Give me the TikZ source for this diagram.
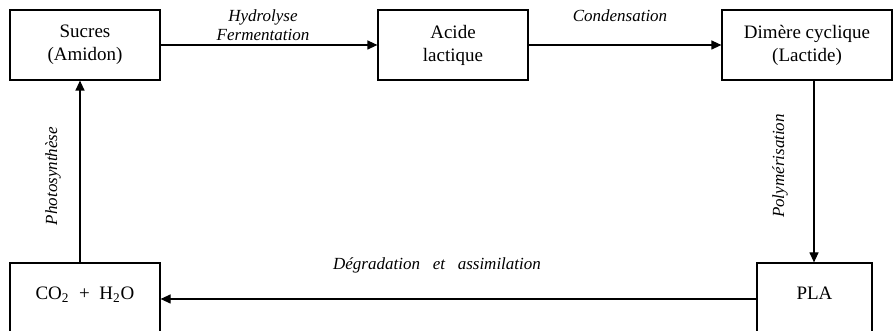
\documentclass[tikz,border=0pt]{standalone}
\usepackage{fontspec}
\setmainfont{Liberation Serif}
\usetikzlibrary{arrows.meta}

\begin{document}
\begin{tikzpicture}[x=0.5pt,y=0.5pt,
  boite/.style={draw,line width=0.6pt,align=center,inner sep=0pt,
    minimum height=35pt,font=\fontsize{9.5}{11.5}\selectfont},
  fleche/.style={line width=0.6pt,-{Triangle[length=5pt,width=4.5pt]}},
  etape/.style={font=\fontsize{8.5}{9.5}\selectfont\itshape,align=center,inner sep=0pt}]
\useasboundingbox (0,0) rectangle (893,331);
%\draw [help lines,step=50] (0,0) grid (893,331);
% les boites du cycle
\node [boite,minimum width=75pt] (sucres) at (85,286) {Sucres\\(Amidon)};
\node [boite,minimum width=75pt] (acide) at (453,286) {Acide\\lactique};
\node [boite,minimum width=85pt] (dimere) at (807,286) {Dimère cyclique\\(Lactide)};
\node [boite,minimum width=57.5pt,minimum height=36pt,text height=7pt,text depth=6.5pt] (pla) at (814.5,32) {PLA};
\node [boite,minimum width=75pt,minimum height=36pt,text height=7pt,text depth=6.5pt] (co2) at (85,32) {CO\textsubscript{2}~~+~~H\textsubscript{2}O};
% les fleches
\draw [fleche] (sucres.east) -- (acide.west);
\draw [fleche] (acide.east) -- (dimere.west);
\draw [fleche] ([xshift=-0.25pt]pla.north |- dimere.south) -- ([xshift=-0.25pt]pla.north);
\draw [fleche] (pla.west) -- (co2.east);
\draw [fleche] ([xshift=-2.5pt]co2.north) -- ([xshift=-2.5pt]sucres.south);
% les etapes
\node [etape] (hydro) at (263,305.5) {Hydrolyse\\Fermentation};
\node [etape] (cond) at (620,315) {Condensation};
\node [etape,rotate=90] (poly) at (780,165) {Polymérisation};
\node [etape] (degr) at (437,66) {Dégradation~~~et~~~assimilation};
\node [etape,rotate=90] (photo) at (53,155) {Photosynthèse};
\end{tikzpicture}
\end{document}
